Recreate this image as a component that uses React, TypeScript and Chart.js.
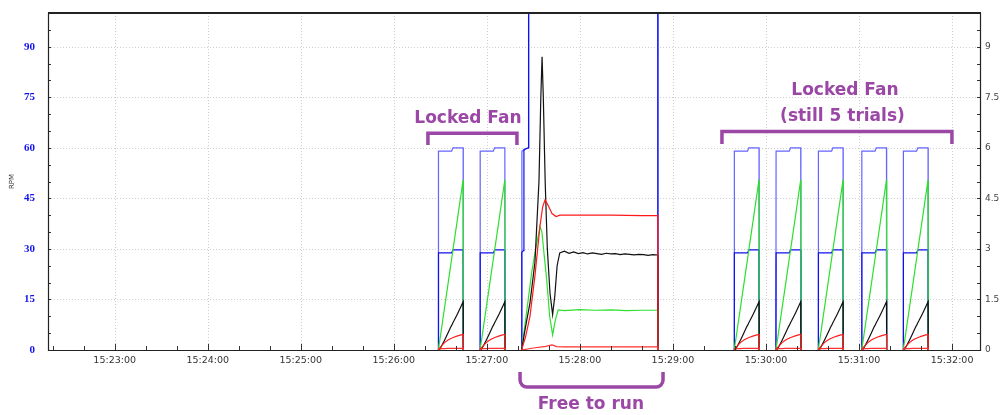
import { useEffect, useRef } from "react";
import { Chart, registerables } from "chart.js";

Chart.register(...registerables);

// ---- axes (x in seconds after 15:22:00) ----
const X_MIN = 17;
const X_MAX = 618;
const Y_MAX = 100;
const Y2_MAX = 10;
const xTickSeconds = [60, 120, 180, 240, 300, 360, 420, 480, 540, 600];
const xTickLabels = ["15:23:00", "15:24:00", "15:25:00", "15:26:00", "15:27:00", "15:28:00", "15:29:00", "15:30:00", "15:31:00", "15:32:00"];
const Y_LABEL_STEP = 15;
const Y2_LABEL_STEP = 1.5;

// ---- locked-fan trials: start times (s) and a common shape ----
const trialStarts = [268.7, 295.6, 459.5, 486.4, 513.7, 541.7, 568.5];
const trialOffsets = [0, 0.1, 1, 2, 4, 6, 8, 8.6, 9.4, 10, 12, 14, 16, 16.1];
const trialBlueA = [0, 59, 59, 59, 59, 59, 59, 59, 60, 60, 60, 60, 60, 0];
const trialBlueB = [0, 28.8, 28.8, 28.8, 28.8, 28.8, 28.8, 28.8, 29.7, 29.7, 29.7, 29.7, 29.7, 0];
const trialGreen = [0, 0.5, 3, 6.2, 12.5, 18.8, 25.2, 27, 29.6, 31.5, 37.8, 44.2, 50.5, 0];
const trialBlack = [0, 0, 0.3, 1.1, 2.9, 4.8, 6.8, 7.3, 8.1, 8.6, 10.4, 12.3, 14.3, 0];
const trialRed = [0, 0.2, 0.7, 1.2, 2.2, 2.9, 3.4, 3.5, 3.7, 3.8, 4.1, 4.4, 4.6, 0];
const trialRed2 = [0, 0.1, 0.3, 0.4, 0.4, 0.5, 0.5, 0.5, 0.5, 0.5, 0.5, 0.5, 0.5, 0];

// ---- free-run run ----
const freeBlueAT = [322.4, 322.6, 326.7, 327.0, 410.2, 410.3];
const freeBlueAV = [0, 59, 60, 150, 150, 0];
const freeBlueBT = [322.4, 322.5, 323.6, 323.9, 326.6, 326.9, 410.2, 410.3];
const freeBlueBV = [0, 29, 29.5, 59.5, 60, 150, 150, 0];
const freeBlackT = [322.4, 324.6, 327.8, 331.0, 333.6, 334.8, 335.6, 336.4, 337.6, 339.0, 340.7, 342.4, 343.8, 345.3, 347.0, 350, 353, 356, 359, 362, 365, 368, 371, 374, 377, 380, 383, 386, 389, 392, 395, 398, 401, 404, 407, 410.2, 410.3];
const freeBlackV = [0, 6, 14, 26, 50, 75, 87, 75, 50, 30, 17, 10.5, 16, 25, 28.8, 29.3, 28.7, 29.1, 28.6, 28.9, 28.5, 28.8, 28.6, 28.4, 28.7, 28.5, 28.6, 28.3, 28.5, 28.4, 28.2, 28.4, 28.3, 28.1, 28.3, 28.2, 0];
const freeRedT = [322.4, 325.0, 327.8, 331.0, 334.3, 336.0, 337.5, 339.4, 342.0, 344.6, 347.2, 360, 380, 400, 410.2, 410.3];
const freeRedV = [0, 4, 10, 22, 37, 42.5, 44.5, 43, 40.5, 39.6, 40, 40, 40, 39.9, 39.9, 0];
const freeGreenT = [322.4, 325.0, 328.9, 331.5, 334.3, 335.5, 337.0, 338.6, 340.5, 342.4, 344.2, 346.0, 350, 360, 370, 380, 390, 400, 410.2, 410.3];
const freeGreenV = [0, 9, 23, 30, 36.6, 35, 28, 20.8, 10, 4.5, 9, 11.9, 11.7, 12, 11.8, 11.9, 11.7, 11.8, 11.8, 0];
const freeRed2T = [322.4, 330, 338, 342, 345, 350, 380, 410.2, 410.3];
const freeRed2V = [0, 0.6, 1.1, 1.5, 1.0, 0.9, 0.9, 0.9, 0];

// ---- annotations (data coordinates) ----
const PURPLE = "#9b47a6";
const annoTexts = [
  { text: "Locked Fan", x: 287.8, y: 68.8 },
  { text: "Locked Fan", x: 530.9, y: 76.9 },
  { text: "(still 5 trials)", x: 529.3, y: 69.2 },
  { text: "Free to run", x: 367.1, y: -16.3 },
];
const topBrackets = [
  { x0: 262.0, x1: 319.4, yTop: 64.3, yEnd: 60.8 },
  { x0: 451.6, x1: 599.9, yTop: 64.8, yEnd: 61.1 },
];
const bottomBracket = { x0: 321.4, x1: 413.6, yTop: -6.5, yBot: -11.0 };

type P = { x: number; y: number | null };

function seg(ts: number[], vs: number[]): P[] {
  return ts.map((t, i) => ({ x: t, y: vs[i] }));
}
function series(trialVals: number[], freeT: number[], freeV: number[]): P[] {
  const segs: P[][] = trialStarts.map((s) => trialOffsets.map((o, i) => ({ x: s + o, y: trialVals[i] })));
  segs.push(seg(freeT, freeV));
  segs.sort((a, b) => a[0].x - b[0].x);
  const out: P[] = [];
  segs.forEach((sg) => {
    out.push(...sg);
    out.push({ x: sg[sg.length - 1].x + 0.05, y: null });
  });
  return out;
}

const decorPlugin = {
  id: "decor",
  beforeDatasetsDraw(chart: any) {
    const { ctx, chartArea, scales } = chart;
    const { left, right, top, bottom } = chartArea;
    ctx.save();
    ctx.strokeStyle = "#cfcfcf";
    ctx.lineWidth = 1;
    ctx.setLineDash([1, 2]);
    xTickSeconds.forEach((s) => {
      const x = Math.round(scales.x.getPixelForValue(s)) + 0.5;
      ctx.beginPath();
      ctx.moveTo(x, top);
      ctx.lineTo(x, bottom);
      ctx.stroke();
    });
    for (let v = Y_LABEL_STEP; v < Y_MAX; v += Y_LABEL_STEP) {
      const y = Math.round(scales.y.getPixelForValue(v)) + 0.5;
      ctx.beginPath();
      ctx.moveTo(left, y);
      ctx.lineTo(right, y);
      ctx.stroke();
    }
    ctx.restore();
  },
  afterDatasetsDraw(chart: any) {
    const { ctx, chartArea, scales } = chart;
    const { left, right, top, bottom } = chartArea;
    ctx.save();
    // tick marks (inward)
    ctx.strokeStyle = "#333";
    ctx.lineWidth = 1;
    for (let s = 20; s < X_MAX; s += 20) {
      if (s <= X_MIN) continue;
      const x = Math.round(scales.x.getPixelForValue(s)) + 0.5;
      const len = s % 60 === 0 ? 6 : 4;
      ctx.beginPath();
      ctx.moveTo(x, bottom);
      ctx.lineTo(x, bottom - len);
      ctx.stroke();
    }
    for (let v = 5; v < Y_MAX; v += 5) {
      const y = Math.round(scales.y.getPixelForValue(v)) + 0.5;
      ctx.beginPath();
      ctx.moveTo(left, y);
      ctx.lineTo(left + 3, y);
      ctx.stroke();
    }
    for (let k = 1; k < Y2_MAX * 2; k++) {
      const y = Math.round(scales.y1.getPixelForValue(k / 2)) + 0.5;
      ctx.beginPath();
      ctx.moveTo(right, y);
      ctx.lineTo(right - 3, y);
      ctx.stroke();
    }
    // frame
    ctx.strokeStyle = "#222";
    ctx.lineWidth = 1.2;
    ctx.beginPath();
    ctx.moveTo(left + 0.5, top);
    ctx.lineTo(left + 0.5, bottom + 0.5);
    ctx.lineTo(right + 0.5, bottom + 0.5);
    ctx.lineTo(right + 0.5, top);
    ctx.stroke();
    ctx.lineWidth = 2;
    ctx.beginPath();
    ctx.moveTo(left, top);
    ctx.lineTo(right + 1, top);
    ctx.stroke();
    ctx.restore();
  },
  afterDraw(chart: any) {
    const { ctx, scales } = chart;
    const X = (v: number) => scales.x.getPixelForValue(v);
    const Y = (v: number) => scales.y.getPixelForValue(v);
    ctx.save();
    ctx.strokeStyle = PURPLE;
    ctx.fillStyle = PURPLE;
    ctx.lineWidth = 3.5;
    ctx.lineJoin = "miter";
    ctx.lineCap = "butt";
    topBrackets.forEach((b) => {
      ctx.beginPath();
      ctx.moveTo(X(b.x0), Y(b.yEnd));
      ctx.lineTo(X(b.x0), Y(b.yTop));
      ctx.lineTo(X(b.x1), Y(b.yTop));
      ctx.lineTo(X(b.x1), Y(b.yEnd));
      ctx.stroke();
    });
    const bb = bottomBracket;
    const r = 7;
    ctx.lineJoin = "round";
    ctx.beginPath();
    ctx.moveTo(X(bb.x0), Y(bb.yTop));
    ctx.arcTo(X(bb.x0), Y(bb.yBot), X(bb.x1), Y(bb.yBot), r);
    ctx.arcTo(X(bb.x1), Y(bb.yBot), X(bb.x1), Y(bb.yTop), r);
    ctx.lineTo(X(bb.x1), Y(bb.yTop));
    ctx.stroke();
    ctx.font = "bold 17px 'DejaVu Sans'";
    ctx.textAlign = "center";
    ctx.textBaseline = "middle";
    annoTexts.forEach((a) => ctx.fillText(a.text, X(a.x), Y(a.y)));
    ctx.restore();
  },
};

export default function App() {
  const ref = useRef<HTMLCanvasElement>(null);
  useEffect(() => {
    if (!ref.current) return;
    const lineDs = (label: string, data: P[], color: string, order: number, yAxisID = "y") => ({
      label,
      data,
      borderColor: color,
      backgroundColor: color,
      borderWidth: 1.2,
      pointRadius: 0,
      tension: 0,
      spanGaps: false,
      order,
      yAxisID,
    });
    const zeroPad = (s: any) => {
      s.paddingTop = 0;
      s.paddingBottom = 0;
      s.paddingLeft = 0;
      s.paddingRight = 0;
    };
    const chart = new Chart(ref.current, {
      type: "line",
      data: {
        datasets: [
          lineDs("Red 2", series(trialRed2, freeRed2T, freeRed2V), "#ff3030", 1),
          lineDs("Red", series(trialRed, freeRedT, freeRedV), "#ff1a1a", 2),
          lineDs("Black", series(trialBlack, freeBlackT, freeBlackV), "#111111", 3),
          lineDs("Green", series(trialGreen, freeGreenT, freeGreenV), "#2ee02e", 4),
          lineDs("Blue B", series(trialBlueB, freeBlueBT, freeBlueBV), "#1010f0", 5),
          lineDs("Blue A", series(trialBlueA, freeBlueAT, freeBlueAV), "#6464ff", 6),
        ],
      },
      options: {
        responsive: false,
        animation: false,
        devicePixelRatio: 1,
        layout: { padding: { top: 13, left: 0, right: 0, bottom: 0 } },
        plugins: { legend: { display: false }, tooltip: { enabled: false } },
        scales: {
          x: {
            type: "linear",
            min: X_MIN,
            max: X_MAX,
            grid: { display: false, drawTicks: false },
            border: { display: false },
            afterBuildTicks: (s: any) => {
              s.ticks = xTickSeconds.map((v) => ({ value: v }));
            },
            ticks: {
              autoSkip: false,
              maxRotation: 0,
              padding: 5,
              color: "#333",
              font: { family: "'DejaVu Sans'", size: 9.5 },
              callback: (v: any) => xTickLabels[xTickSeconds.indexOf(Number(v))],
            },
            afterFit: (s: any) => {
              s.height = 65;
              zeroPad(s);
            },
          },
          y: {
            position: "left",
            min: 0,
            max: Y_MAX,
            grid: { display: false, drawTicks: false },
            border: { display: false },
            title: {
              display: true,
              text: "RPM",
              color: "#333",
              font: { family: "'DejaVu Sans'", size: 7 },
              padding: { top: 8, bottom: 0 },
            },
            ticks: {
              stepSize: Y_LABEL_STEP,
              includeBounds: false,
              padding: 13,
              color: "#1414f0",
              font: { family: "'Liberation Serif'", size: 11, weight: "bold" },
            },
            afterFit: (s: any) => {
              s.width = 48;
              zeroPad(s);
            },
          },
          y1: {
            position: "right",
            min: 0,
            max: Y2_MAX,
            grid: { display: false, drawTicks: false },
            border: { display: false },
            ticks: {
              stepSize: Y2_LABEL_STEP,
              includeBounds: false,
              padding: 5,
              color: "#444",
              font: { family: "'DejaVu Sans'", size: 9 },
            },
            afterFit: (s: any) => {
              s.width = 23;
              zeroPad(s);
            },
          },
        },
      },
      plugins: [decorPlugin],
    });
    return () => chart.destroy();
  }, []);
  return (
    <div style={{ position: "absolute", left: 0, top: 0, width: 1003, height: 415, background: "#fff" }}>
      <canvas ref={ref} width={1003} height={415} />
    </div>
  );
}
